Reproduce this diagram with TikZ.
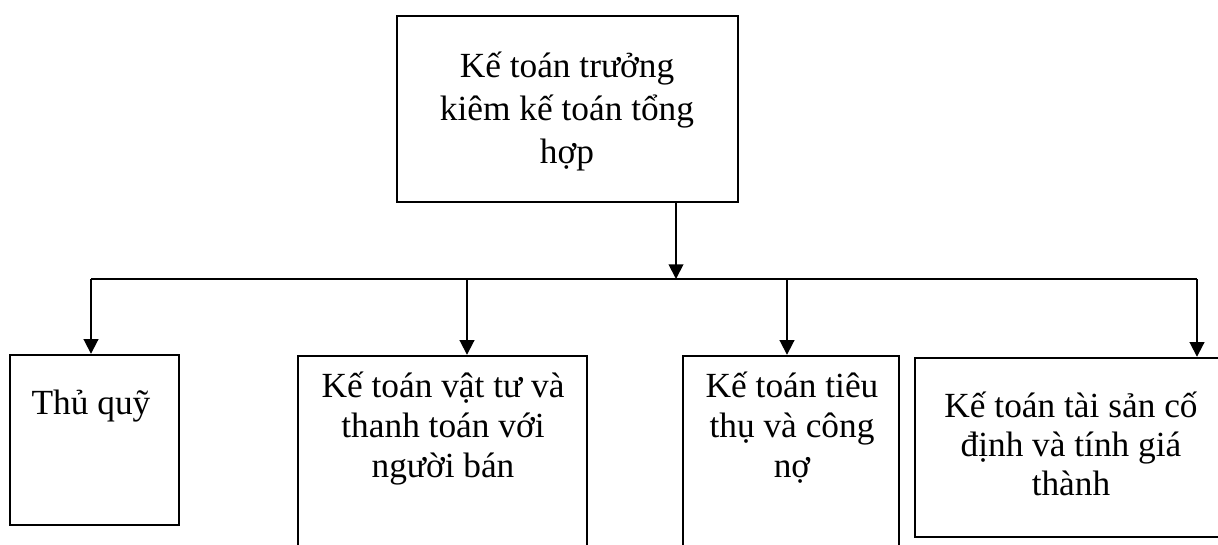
\documentclass[tikz,border=0pt]{standalone}
\usepackage{fontspec}
\setmainfont{Liberation Serif}
\usetikzlibrary{arrows.meta}
\begin{document}
\begin{tikzpicture}[x=0.75pt,y=-0.75pt,
  box/.style={draw, line width=1.8pt, rectangle, inner sep=0pt},
  lbl/.style={align=center, inner sep=0pt, anchor=base},
  conn/.style={line width=1.4pt},
  arr/.style={conn, -{Triangle[length=11pt,width=11pt]}}]
\clip (0,0) rectangle (1218,544);
\useasboundingbox (0,0) rectangle (1218,544);
% boxes
\node[box, minimum width=341*0.75pt, minimum height=186*0.75pt] (top) at (567.5,109) {};
\node[box, minimum width=169*0.75pt, minimum height=170*0.75pt] (b1) at (94.5,440) {};
\node[box, minimum width=289*0.75pt, minimum height=214*0.75pt] (b2) at (442.5,463) {};
\node[box, minimum width=216*0.75pt, minimum height=214*0.75pt] (b3) at (791,463) {};
\node[box, minimum width=315*0.75pt, minimum height=179*0.75pt] (b4) at (1072.5,447.5) {};
% texts (base anchor = baseline of last line)
\node[lbl, font=\fontsize{26.5pt}{32pt}\selectfont] (ttop) at (567,163) {Kế toán trưởng\\kiêm kế toán tổng\\hợp};
\node[lbl, font=\fontsize{26.5pt}{30pt}\selectfont] (t1) at (91,414) {Thủ quỹ};
\node[lbl, font=\fontsize{26.5pt}{30pt}\selectfont] (t2) at (443,477) {Kế toán vật tư và\\thanh toán với\\người bán};
\node[lbl, font=\fontsize{26.5pt}{30pt}\selectfont] (t3) at (792,477) {Kế toán tiêu\\thụ và công\\nợ};
\node[lbl, font=\fontsize{26.5pt}{29pt}\selectfont] (t4) at (1071,495) {Kế toán tài sản cố\\định và tính giá\\thành};
% bus
\coordinate (j) at (676,279);
\coordinate (c1) at (91,279);
\coordinate (c2) at (467,279);
\coordinate (c3) at (787,279);
\coordinate (c4) at (1197,279);
\draw[arr] (top.south -| j) -- (j);
\draw[conn] (c1) -- (c4);
\draw[arr] (c1) -- (c1 |- b1.north);
\draw[arr] (c2) -- (c2 |- b2.north);
\draw[arr] (c3) -- (c3 |- b3.north);
\draw[arr] (c4) -- (c4 |- b4.north);
\end{tikzpicture}
\end{document}
